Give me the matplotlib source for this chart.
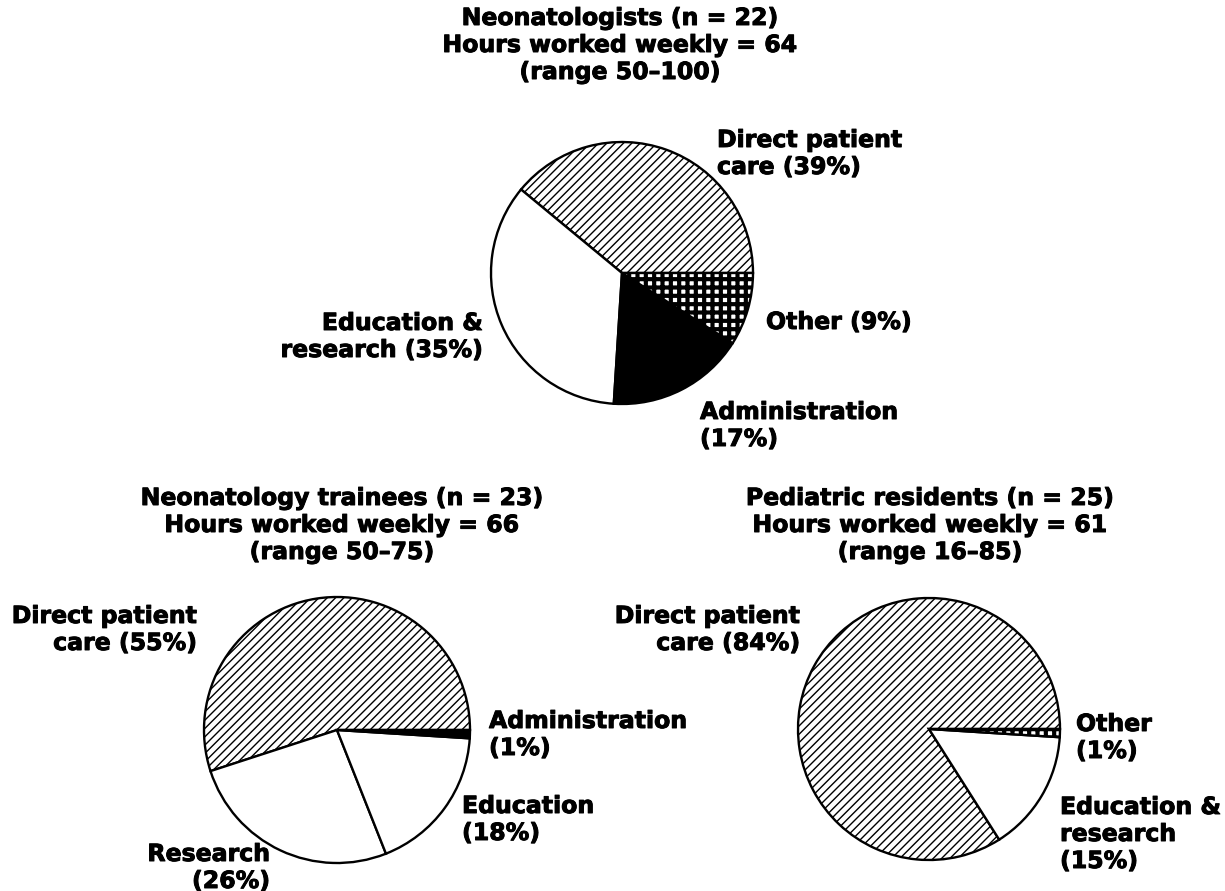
import matplotlib.pyplot as plt
import matplotlib.patheffects as pe

W, H = 1225, 891

# Neonatologists
neo_labels = ['Direct patient care', 'Education & research', 'Administration', 'Other']
neo_values = [39, 35, 17, 9]

# Neonatology trainees
trn_labels = ['Direct patient care', 'Research', 'Education', 'Administration']
trn_values = [55, 26, 18, 1]

# Pediatric residents
res_labels = ['Direct patient care', 'Education & research', 'Other']
res_values = [84, 15, 1]

titles = [
    ['Neonatologists (n = 22)', 'Hours worked weekly = 64', '(range 50\u2013100)'],
    ['Neonatology trainees (n = 23)', 'Hours worked weekly = 66', '(range 50\u201375)'],
    ['Pediatric residents (n = 25)', 'Hours worked weekly = 61', '(range 16\u201385)'],
]

# fill style per category: (face colour, hatch)
fills = {
    'Direct patient care': ('white', '////'),
    'Education & research': ('white', None),
    'Research': ('white', None),
    'Education': ('white', None),
    'Administration': ('black', None),
    'Other': ('white', '++'),
}

FS = 17
STEP = 27

fig = plt.figure(figsize=(W / 100, H / 100), dpi=100)
ax = fig.add_axes([0, 0, 1, 1])


def draw_pie(labels, values, cx, cy, r):
    colors = [fills[l][0] for l in labels]
    hatches = [fills[l][1] for l in labels]
    wedges, _ = ax.pie(values, colors=colors, hatch=hatches, startangle=0,
                       counterclock=True, center=(cx, H - cy), radius=r,
                       frame=True,
                       wedgeprops=dict(edgecolor='black', linewidth=1.7))
    for w, l in zip(wedges, labels):
        if l == 'Other' and hasattr(w, 'set_hatch_linewidth'):
            w.set_hatch_linewidth(3.0)
    return wedges


def put(x, y, text, ha='left'):
    # y is the baseline of the first line in image pixels
    for i, line in enumerate(text.split('\n')):
        ax.text(x, H - (y + i * STEP), line, ha=ha, va='baseline',
                fontsize=FS, fontweight='bold', family='DejaVu Sans',
                path_effects=[pe.withStroke(linewidth=0.7, foreground='black')])


draw_pie(neo_labels, neo_values, 622, 273, 131)
draw_pie(trn_labels, trn_values, 337, 730, 133)
draw_pie(res_labels, res_values, 929, 729, 131)

# titles
put(620, 25, '\n'.join(titles[0]), ha='center')
put(342, 505, '\n'.join(titles[1]), ha='center')
put(930, 505, '\n'.join(titles[2]), ha='center')

# neonatologists labels
put(717, 147, 'Direct patient\ncare (%d%%)' % neo_values[0])
put(483, 330, 'Education &\nresearch (%d%%)' % neo_values[1], ha='right')
put(700, 419, 'Administration\n(%d%%)' % neo_values[2])
put(766, 329, 'Other (%d%%)' % neo_values[3])

# trainees labels
put(197, 623, 'Direct patient\ncare (%d%%)' % trn_values[0], ha='right')
put(270, 861, 'Research\n(%d%%)' % trn_values[1], ha='right')
put(462, 813, 'Education\n(%d%%)' % trn_values[2])
put(489, 728, 'Administration\n(%d%%)' % trn_values[3])

# residents labels
put(800, 623, 'Direct patient\ncare (%d%%)' % res_values[0], ha='right')
put(1060, 814, 'Education &\nresearch\n(%d%%)' % res_values[1])
put(1076, 731, 'Other\n(%d%%)' % res_values[2])

ax.set_xlim(0, W)
ax.set_ylim(0, H)
ax.set_aspect('equal')
ax.axis('off')

fig.savefig('out.png', dpi=100, facecolor='white')
